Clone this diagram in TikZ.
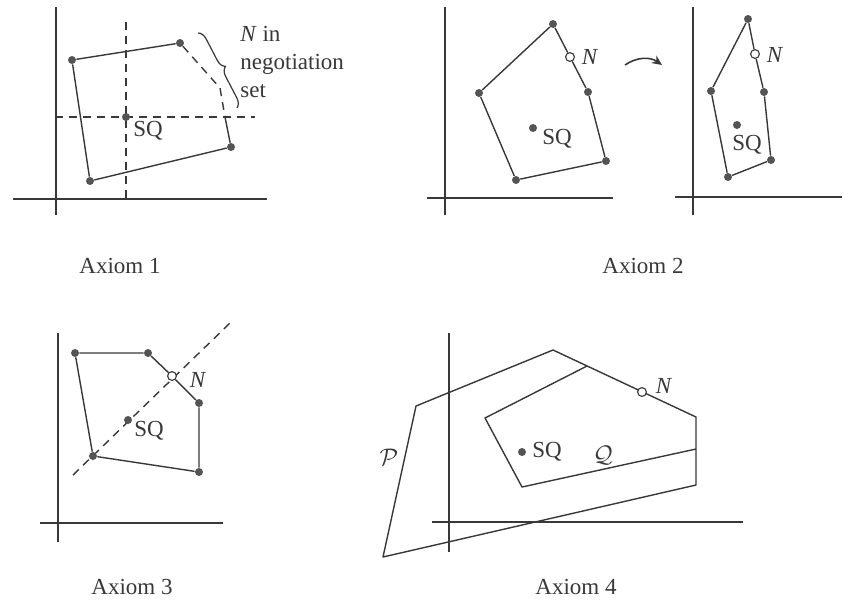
\documentclass[tikz,border=0pt]{standalone}
\usepackage{fontspec}
\setmainfont{Liberation Serif}
\usetikzlibrary{arrows.meta,decorations.pathreplacing}
\definecolor{ink}{gray}{0.22}
\definecolor{dotgray}{gray}{0.33}
\begin{document}
\begin{tikzpicture}[x=0.5pt,y=-0.5pt, every node/.style={font=\fontsize{11.5}{14}\selectfont,text=ink},
  ax/.style={draw=ink,line width=0.7pt},
  edge/.style={draw=ink,line width=0.7pt,line join=round},
  guide/.style={draw=ink,line width=0.7pt,dash pattern=on 4pt off 3pt},
  dot/.style={circle,fill=dotgray,inner sep=0pt,minimum size=4pt},
  nash/.style={circle,draw=ink,fill=white,line width=0.55pt,inner sep=0pt,minimum size=4.4pt}]
\useasboundingbox (0,0) rectangle (844,601);
% Axiom 1
\draw[ax] (56,7) -- (56,215);
\draw[ax] (13,199) -- (267,199);
\draw[guide] (126,22) -- (126,199);
\draw[guide] (55,117) -- (255,117);
\node[dot] (a1) at (72,60) {};
\node[dot] (b1) at (180,43) {};
\coordinate (k1) at (220,88);
\coordinate (m1) at (225,117);
\node[dot] (c1) at (231,147) {};
\node[dot] (d1) at (90,181) {};
\draw[edge] (m1) -- (c1) -- (d1) -- (a1) -- (b1);
\draw[guide] (b1) -- (k1) -- (m1);
\node[dot] (sq1) at (126,117) {};
\node (lsq1) at (148,131) {SQ};
\coordinate (br1) at (198,33);
\coordinate (br2) at (237,108);
\draw[ink,line width=0.6pt,decorate,decoration={brace,amplitude=4.5pt}] (br1) -- (br2);
\node[anchor=north west,align=left,inner sep=0pt] (nset) at (240,26) {\textit{N} in\\negotiation\\set};
\node (ax1) at (120,266) {Axiom 1};
% Axiom 2, before
\draw[ax] (445,7) -- (445,215);
\draw[ax] (427,198) -- (613,198);
\node[dot] (t2) at (553,24) {};
\node[nash] (n2) at (570,57) {};
\node[dot] (r2) at (588,92) {};
\node[dot] (s2) at (606,161) {};
\node[dot] (b2) at (516,180) {};
\node[dot] (l2) at (479,93) {};
\draw[edge] (t2) -- (n2) -- (r2) -- (s2) -- (b2) -- (l2) -- (t2);
\node[dot] (sq2) at (533,128) {};
\node (lsq2) at (557,139) {SQ};
\node (ln2) at (590,57) {\textit{N}};
\coordinate (arrA) at (625,65);
\coordinate (arrB) at (662,65);
\draw[ink,line width=0.8pt,-{Stealth[length=5pt,width=4.5pt]}] (arrA) to[bend left=35] (arrB);
% Axiom 2, after
\draw[ax] (693,7) -- (693,215);
\draw[ax] (675,197) -- (842,197);
\node[dot] (t3) at (748,19) {};
\node[nash] (n3) at (755,54) {};
\node[dot] (r3) at (764,92) {};
\node[dot] (s3) at (771,160) {};
\node[dot] (b3) at (728,177) {};
\node[dot] (l3) at (711,91) {};
\draw[edge] (t3) -- (n3) -- (r3) -- (s3) -- (b3) -- (l3) -- (t3);
\node[dot] (sq3) at (737,125) {};
\node (lsq3) at (747,145) {SQ};
\node (ln3) at (775,55) {\textit{N}};
\node (ax2) at (643,266) {Axiom 2};
% Axiom 3
\draw[ax] (58,333) -- (58,542);
\draw[ax] (40,523) -- (223,523);
\draw[guide] (73,475) -- (230,323);
\node[dot] (p1) at (75,353) {};
\node[dot] (p2) at (148,353) {};
\node[nash] (n4) at (172,376) {};
\node[dot] (p3) at (199,403) {};
\node[dot] (p4) at (199,472) {};
\node[dot] (p5) at (93,456) {};
\draw[edge] (p1) -- (p2) -- (n4) -- (p3) -- (p4) -- (p5) -- (p1);
\node[dot] (sq4) at (128,420) {};
\node (lsq4) at (149,431) {SQ};
\node (ln4) at (198,380) {\textit{N}};
\node (ax3) at (132,587) {Axiom 3};
% Axiom 4
\draw[ax] (449,333) -- (449,552);
\draw[ax] (432,522) -- (743,522);
\coordinate (P1) at (383,557);
\coordinate (P2) at (416,406);
\coordinate (P3) at (553,350);
\coordinate (P4) at (696,417);
\coordinate (P5) at (696,485);
\coordinate (Q1) at (485,418);
\coordinate (Q2) at (587,366);
\coordinate (Q5) at (696,449);
\coordinate (Q6) at (522,487);
\draw[edge] (P1) -- (P2) -- (P3) -- (P4) -- (P5) -- cycle;
\draw[edge] (Q2) -- (Q1) -- (Q6) -- (Q5);
\node[nash] (n5) at (642,392) {};
\node[dot] (sq5) at (522,452) {};
\node (lsq5) at (547,452) {SQ};
\node (lq5) at (603,455) {$\mathcal{Q}$};
\node (lp5) at (389,457) {$\mathcal{P}$};
\node (ln5) at (664,386) {\textit{N}};
\node (ax4) at (576,587) {Axiom 4};
\end{tikzpicture}
\end{document}
